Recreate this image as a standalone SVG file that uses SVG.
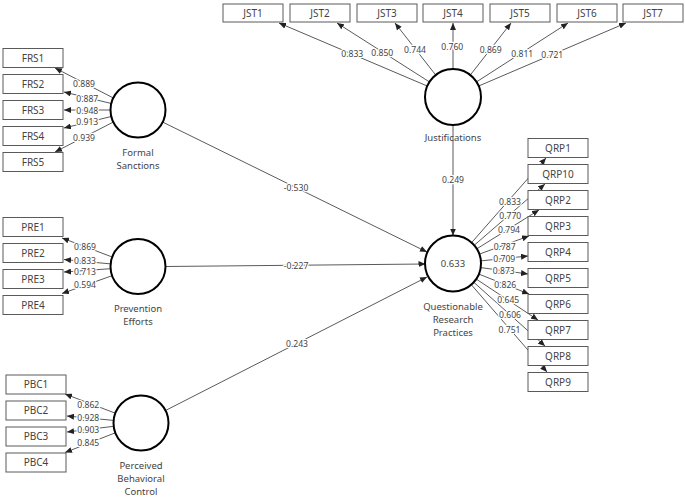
<svg xmlns="http://www.w3.org/2000/svg" width="685" height="497" viewBox="0 0 685 497">
<style>
.bg{fill:#ffffff}
.ln{stroke:#5a5a5a;stroke-width:1;fill:none;marker-end:url(#ah)}
.box{fill:#ffffff;stroke:#5a5a5a;stroke-width:1}
.lv{fill:#ffffff;stroke:#000000;stroke-width:2}
.bt{font-family:"Noto Sans","Open Sans",sans-serif;font-size:10px;fill:#444444;text-anchor:middle}
.nt{font-family:"Noto Sans","Open Sans",sans-serif;font-size:9.5px;fill:#444444;text-anchor:middle}
.wt{font-family:"Noto Sans","Open Sans",sans-serif;font-size:8.6px;fill:#444444;text-anchor:middle;stroke:#ffffff;stroke-width:2.5;paint-order:stroke;stroke-linejoin:round}
</style>
<defs>
<marker id="ah" markerUnits="userSpaceOnUse" markerWidth="7" markerHeight="6" refX="7" refY="3" orient="auto">
<path d="M0,0 L7,3 L0,6 z" fill="#222222"/>
</marker>
</defs>
<rect class="bg" x="0" y="0" width="685" height="497"/>
<g id="connectors">
<line class="ln" x1="427.2" y1="86" x2="279" y2="23"/>
<line class="ln" x1="429.4" y1="81.9" x2="337" y2="23"/>
<line class="ln" x1="435.7" y1="75" x2="395" y2="23"/>
<line class="ln" x1="453" y1="69" x2="453" y2="23"/>
<line class="ln" x1="470.3" y1="75" x2="511" y2="23"/>
<line class="ln" x1="476.5" y1="81.9" x2="568" y2="23"/>
<line class="ln" x1="478.7" y1="86" x2="626" y2="23"/>
<line class="ln" x1="113.4" y1="98" x2="55" y2="68"/>
<line class="ln" x1="111.3" y1="103.5" x2="64" y2="92"/>
<line class="ln" x1="110.5" y1="110" x2="64" y2="110"/>
<line class="ln" x1="111.3" y1="116.5" x2="64" y2="128"/>
<line class="ln" x1="113.4" y1="122" x2="55" y2="152"/>
<line class="ln" x1="112.2" y1="257" x2="62" y2="238"/>
<line class="ln" x1="110.6" y1="263.9" x2="64" y2="259.5"/>
<line class="ln" x1="110.6" y1="268.7" x2="64" y2="272"/>
<line class="ln" x1="112.1" y1="275.7" x2="62" y2="293.5"/>
<line class="ln" x1="115.3" y1="413.2" x2="65" y2="394"/>
<line class="ln" x1="113.6" y1="420.4" x2="67" y2="416"/>
<line class="ln" x1="113.7" y1="426.3" x2="67" y2="432"/>
<line class="ln" x1="115.3" y1="432.8" x2="65" y2="452.5"/>
<line class="ln" x1="471.6" y1="242.6" x2="546" y2="158"/>
<line class="ln" x1="474.2" y1="245.3" x2="545" y2="184"/>
<line class="ln" x1="476.8" y1="248.8" x2="539" y2="210"/>
<line class="ln" x1="479.4" y1="254.1" x2="529" y2="236"/>
<line class="ln" x1="480.9" y1="260.9" x2="528" y2="256"/>
<line class="ln" x1="480.7" y1="267.6" x2="528" y2="274"/>
<line class="ln" x1="478.9" y1="274.1" x2="529" y2="294"/>
<line class="ln" x1="476.3" y1="279.1" x2="538" y2="320"/>
<line class="ln" x1="473.8" y1="282.3" x2="545" y2="346"/>
<line class="ln" x1="471.3" y1="284.7" x2="547" y2="372"/>
<line class="ln" x1="162.7" y1="122.1" x2="427" y2="252"/>
<line class="ln" x1="165.5" y1="266.5" x2="425.5" y2="264"/>
<line class="ln" x1="165.5" y1="410.5" x2="427" y2="277"/>
<line class="ln" x1="453" y1="125" x2="453" y2="235.5"/>
<text class="wt" x="352.3" y="57.3">0.833</text>
<text class="wt" x="382.3" y="55.6">0.850</text>
<text class="wt" x="415" y="52.6">0.744</text>
<text class="wt" x="452.3" y="50">0.760</text>
<text class="wt" x="490.7" y="52.6">0.869</text>
<text class="wt" x="522.3" y="56.6">0.811</text>
<text class="wt" x="552.3" y="57.6">0.721</text>
<text class="wt" x="84" y="86.6">0.889</text>
<text class="wt" x="87.3" y="102">0.887</text>
<text class="wt" x="87.3" y="114">0.948</text>
<text class="wt" x="87.3" y="125.3">0.913</text>
<text class="wt" x="84" y="140.6">0.939</text>
<text class="wt" x="85" y="250">0.869</text>
<text class="wt" x="85" y="263.8">0.833</text>
<text class="wt" x="85" y="275.3">0.713</text>
<text class="wt" x="85" y="288.3">0.594</text>
<text class="wt" x="88.3" y="408.3">0.862</text>
<text class="wt" x="88.3" y="420.8">0.928</text>
<text class="wt" x="88.3" y="432.5">0.903</text>
<text class="wt" x="88.3" y="445.6">0.845</text>
<text class="wt" x="510" y="205">0.833</text>
<text class="wt" x="510.3" y="219">0.770</text>
<text class="wt" x="509" y="233.3">0.794</text>
<text class="wt" x="504.7" y="250">0.787</text>
<text class="wt" x="504.3" y="261.6">0.709</text>
<text class="wt" x="503.8" y="274">0.873</text>
<text class="wt" x="505.3" y="288.3">0.826</text>
<text class="wt" x="508.3" y="303.3">0.645</text>
<text class="wt" x="510" y="317.6">0.606</text>
<text class="wt" x="509.5" y="332.6">0.751</text>
<text class="wt" x="296" y="191">-0.530</text>
<text class="wt" x="296" y="268.5">-0.227</text>
<text class="wt" x="297" y="347.3">0.243</text>
<text class="wt" x="453" y="183.3">0.249</text>
</g>
<g id="JST1"><rect class="box" x="223" y="4" width="60" height="18"/><text class="bt" x="253" y="16.5">JST1</text></g>
<g id="JST2"><rect class="box" x="290" y="4" width="60" height="18"/><text class="bt" x="320" y="16.5">JST2</text></g>
<g id="JST3"><rect class="box" x="357" y="4" width="60" height="18"/><text class="bt" x="387" y="16.5">JST3</text></g>
<g id="JST4"><rect class="box" x="423" y="4" width="60" height="18"/><text class="bt" x="453" y="16.5">JST4</text></g>
<g id="JST5"><rect class="box" x="490" y="4" width="60" height="18"/><text class="bt" x="520" y="16.5">JST5</text></g>
<g id="JST6"><rect class="box" x="557" y="4" width="60" height="18"/><text class="bt" x="587" y="16.5">JST6</text></g>
<g id="JST7"><rect class="box" x="623" y="4" width="60" height="18"/><text class="bt" x="653" y="16.5">JST7</text></g>
<g id="FRS1"><rect class="box" x="3" y="48.5" width="60" height="19"/><text class="bt" x="33" y="61.5">FRS1</text></g>
<g id="FRS2"><rect class="box" x="3" y="74.5" width="60" height="19"/><text class="bt" x="33" y="87.5">FRS2</text></g>
<g id="FRS3"><rect class="box" x="3" y="100.5" width="60" height="19"/><text class="bt" x="33" y="113.5">FRS3</text></g>
<g id="FRS4"><rect class="box" x="3" y="126.5" width="60" height="19"/><text class="bt" x="33" y="139.5">FRS4</text></g>
<g id="FRS5"><rect class="box" x="3" y="152.5" width="60" height="19"/><text class="bt" x="33" y="165.5">FRS5</text></g>
<g id="PRE1"><rect class="box" x="3" y="217.5" width="60" height="19"/><text class="bt" x="33" y="230.5">PRE1</text></g>
<g id="PRE2"><rect class="box" x="3" y="243.5" width="60" height="19"/><text class="bt" x="33" y="256.5">PRE2</text></g>
<g id="PRE3"><rect class="box" x="3" y="269.5" width="60" height="19"/><text class="bt" x="33" y="282.5">PRE3</text></g>
<g id="PRE4"><rect class="box" x="3" y="295.5" width="60" height="19"/><text class="bt" x="33" y="308.5">PRE4</text></g>
<g id="PBC1"><rect class="box" x="6" y="375" width="60" height="19"/><text class="bt" x="36" y="388">PBC1</text></g>
<g id="PBC2"><rect class="box" x="6" y="401" width="60" height="19"/><text class="bt" x="36" y="414">PBC2</text></g>
<g id="PBC3"><rect class="box" x="6" y="427" width="60" height="19"/><text class="bt" x="36" y="440">PBC3</text></g>
<g id="PBC4"><rect class="box" x="6" y="453" width="60" height="19"/><text class="bt" x="36" y="466">PBC4</text></g>
<g id="QRP1"><rect class="box" x="528" y="138.5" width="60" height="19"/><text class="bt" x="558" y="151.5">QRP1</text></g>
<g id="QRP10"><rect class="box" x="528" y="164.5" width="60" height="19"/><text class="bt" x="558" y="177.5">QRP10</text></g>
<g id="QRP2"><rect class="box" x="528" y="190.5" width="60" height="19"/><text class="bt" x="558" y="203.5">QRP2</text></g>
<g id="QRP3"><rect class="box" x="528" y="216.5" width="60" height="19"/><text class="bt" x="558" y="229.5">QRP3</text></g>
<g id="QRP4"><rect class="box" x="528" y="242.5" width="60" height="19"/><text class="bt" x="558" y="255.5">QRP4</text></g>
<g id="QRP5"><rect class="box" x="528" y="268.5" width="60" height="19"/><text class="bt" x="558" y="281.5">QRP5</text></g>
<g id="QRP6"><rect class="box" x="528" y="294.5" width="60" height="19"/><text class="bt" x="558" y="307.5">QRP6</text></g>
<g id="QRP7"><rect class="box" x="528" y="320.5" width="60" height="19"/><text class="bt" x="558" y="333.5">QRP7</text></g>
<g id="QRP8"><rect class="box" x="528" y="346.5" width="60" height="19"/><text class="bt" x="558" y="359.5">QRP8</text></g>
<g id="QRP9"><rect class="box" x="528" y="372.5" width="60" height="19"/><text class="bt" x="558" y="385.5">QRP9</text></g>
<g id="Justifications"><circle class="lv" cx="453" cy="97" r="28"/><text class="nt" x="453" y="140.5">Justifications</text></g>
<g id="FormalSanctions"><circle class="lv" cx="138" cy="110" r="27.5"/><text class="nt" x="138" y="155.5">Formal</text><text class="nt" x="138" y="168.5">Sanctions</text></g>
<g id="PreventionEfforts"><circle class="lv" cx="138" cy="266.5" r="27.5"/><text class="nt" x="138" y="311.5">Prevention</text><text class="nt" x="138" y="324.5">Efforts</text></g>
<g id="PerceivedBehavioralControl"><circle class="lv" cx="141" cy="423" r="27.5"/><text class="nt" x="141" y="468.5">Perceived</text><text class="nt" x="141" y="481.5">Behavioral</text><text class="nt" x="141" y="494.5">Control</text></g>
<g id="QuestionableResearchPractices"><circle class="lv" cx="453" cy="263.5" r="28"/><text class="nt" x="453" y="267">0.633</text><text class="nt" x="453" y="309.5">Questionable</text><text class="nt" x="453" y="322.5">Research</text><text class="nt" x="453" y="335.5">Practices</text></g>
</svg>
